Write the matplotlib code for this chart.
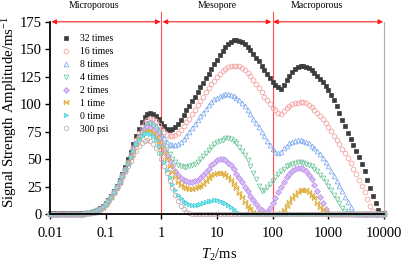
import numpy as np
import matplotlib
matplotlib.use("Agg")
import matplotlib.pyplot as plt
from matplotlib.path import Path

plt.rcParams['font.family'] = ['Liberation Serif', 'DejaVu Serif']
plt.rcParams['mathtext.fontset'] = 'custom'
plt.rcParams['mathtext.rm'] = 'Liberation Serif'
plt.rcParams['mathtext.it'] = 'Liberation Serif:italic'

# T2 grid (ms): log-spaced NMR relaxation time axis, 20 points per decade
T2 = np.logspace(-2, 4, 121)

labels = ["32 times", "16 times", "8 times", "4 times", "2 times", "1 time", "0 time", "300 psi"]

s32 = [1, 1, 1, 1, 1, 1, 1, 1, 1, 1,
       1, 1, 1, 1.2, 1.5, 2, 2.8, 4, 5.5, 7.5,
       10, 13, 17, 21, 26, 31, 37, 43, 50, 57,
       64, 71, 78, 84, 88.5, 91, 92, 91.5, 89.5, 86.5,
       83, 80, 78, 77, 77.5, 79, 82, 86, 90, 94.5,
       98.5, 103, 107, 111, 115.5, 119.5, 124, 128, 132, 136.5,
       140.5, 144.5, 148.5, 152, 155, 157, 158.3, 158.5, 158, 156.5,
       154.5, 152, 149, 146, 142.5, 139, 135, 131, 127.5, 124,
       120, 117.5, 115.5, 113.5, 117.5, 122, 126, 129.5, 132, 133.5,
       134.5, 134.5, 134, 133, 131, 128.5, 126, 123, 120, 116.5,
       113, 108.5, 104, 98.5, 92, 86, 80, 74, 68.5, 63,
       58, 52, 46, 39, 31, 24, 17, 10.5, 4, 1,
       1]

s16 = [0.5, 0.5, 0.5, 0.5, 0.5, 0.5, 0.5, 0.5, 0.5, 0.5,
       0.5, 0.5, 0.5, 0.8, 1.2, 1.7, 2.5, 3.5, 5, 7,
       9.5, 12.5, 16, 20, 25, 30, 35.5, 41.5, 48, 54.5,
       61, 67.5, 73.5, 79, 83, 86, 87, 86.5, 84.5, 81.5,
       78, 75, 72.5, 71, 71, 72, 74, 77, 80, 83.5,
       87, 91, 95, 99, 103, 107, 111, 115, 118.5, 121.5,
       124.5, 127.5, 130, 132, 133.5, 134.5, 135, 135, 134.5, 133,
       131, 128.5, 125.5, 122, 118.5, 115, 111, 107, 103.5, 100,
       97, 94.5, 92.5, 91.5, 94, 96.5, 98.5, 100, 101, 101.5,
       102, 102, 101, 99.5, 97.5, 95, 92.5, 89.5, 86.5, 83,
       79.5, 75.5, 71.5, 67.5, 63.5, 59.5, 55.5, 51, 46.5, 41.5,
       36.5, 31.5, 26, 20, 14, 8, 3, 0.5, 0.5, 0.5,
       0.5]

s8 = [0.5, 0.5, 0.5, 0.5, 0.5, 0.5, 0.5, 0.5, 0.5, 0.5,
      0.5, 0.5, 0.5, 0.8, 1.2, 1.7, 2.5, 3.5, 5, 7,
      9.5, 12.5, 16, 20, 24.5, 29.5, 35, 41, 47, 53.5,
      60, 66, 71.5, 76.5, 80.5, 83, 84, 83, 80.5, 77,
      73, 69, 66, 64, 63, 63, 64, 66, 68.5, 71.5,
      75, 78.5, 82, 85.5, 89, 92.5, 96, 99, 102, 104.5,
      106, 107.5, 108.5, 109, 109, 108.5, 107.5, 106, 104, 101.5,
      98.5, 95, 91, 87, 83, 79, 75, 71, 67, 63,
      59.5, 57, 55.5, 57, 60, 62.5, 64.5, 66, 67, 67.5,
      67.5, 67, 66, 64.5, 62.5, 60, 57.5, 54.5, 51, 47.5,
      43.5, 39.5, 35, 30.5, 26, 21, 16, 11, 6.5, 2.5,
      0.5, 0.5, 0.5, 0.5, 0.5, 0.5, 0.5, 0.5, 0.5, 0.5,
      0.5]

s4 = [0.5, 0.5, 0.5, 0.5, 0.5, 0.5, 0.5, 0.5, 0.5, 0.5,
      0.5, 0.5, 0.5, 0.8, 1.2, 1.7, 2.5, 3.5, 5, 7,
      9.5, 12.5, 16, 20, 24.5, 29.5, 35, 40.5, 46.5, 52.5,
      58.5, 64, 69.5, 74, 77.5, 80, 81, 80, 77.5, 73.5,
      69, 64, 59, 54.5, 50.5, 47.5, 45, 43.5, 43, 43,
      43.5, 44.5, 46, 48, 50.5, 53, 55.5, 58.5, 61, 63.5,
      65.5, 67, 68, 69, 69, 68.5, 67, 64.5, 61.5, 58,
      54, 49.5, 44, 38, 32, 26, 21, 22.5, 25, 27.5,
      30.5, 33.5, 36.5, 39, 41.5, 43.5, 45, 46, 47, 47.5,
      47.5, 47, 46, 45, 43.5, 41.5, 39, 36, 33, 29.5,
      26, 22, 18, 14, 10, 6, 3, 1, 0.5, 0.5,
      0.5, 0.5, 0.5, 0.5, 0.5, 0.5, 0.5, 0.5, 0.5, 0.5,
      0.5]

s2 = [0.5, 0.5, 0.5, 0.5, 0.5, 0.5, 0.5, 0.5, 0.5, 0.5,
      0.5, 0.5, 0.5, 0.8, 1.2, 1.7, 2.5, 3.5, 5, 7,
      9.5, 12.5, 16, 20, 24.5, 29.5, 35, 40.5, 47, 53,
      59, 65, 70, 74.5, 77.5, 79, 78.5, 76.5, 73, 69,
      64.5, 59.5, 54, 48.5, 43.5, 39, 35.5, 33, 31, 30,
      29.5, 29.5, 30, 31, 33, 35.5, 38.5, 41.5, 44.5, 47,
      49, 50, 50, 49, 47, 44.5, 41, 37, 33, 29,
      25, 21, 17, 13, 9.5, 6, 3.5, 2, 2.5, 5.5,
      10, 15, 20, 25, 29.5, 33.5, 37, 39.5, 41, 42,
      42, 41, 39, 36, 32, 27, 21.5, 15.5, 10, 5,
      1.5, 0.5, 0.5, 0.5, 0.5, 0.5, 0.5, 0.5, 0.5, 0.5,
      0.5, 0.5, 0.5, 0.5, 0.5, 0.5, 0.5, 0.5, 0.5, 0.5,
      0.5]

s1 = [0.5, 0.5, 0.5, 0.5, 0.5, 0.5, 0.5, 0.5, 0.5, 0.5,
      0.5, 0.5, 0.5, 0.8, 1.2, 1.7, 2.5, 3.5, 5, 7,
      9.5, 12.5, 16, 20, 24.5, 29.5, 35, 40.5, 46.5, 52.5,
      58.5, 64, 69, 72.5, 75, 76, 75.5, 73.5, 70, 66,
      61.5, 56, 50, 44, 38.5, 33.5, 29.5, 26.5, 24.5, 23.5,
      23, 23, 23.5, 24.5, 26, 28, 30.5, 33, 35.5, 37,
      38, 38, 37.5, 36, 34, 31, 27.5, 23.5, 19.5, 15.5,
      11.5, 8, 5, 2.5, 1, 0.5, 0.5, 0.5, 0.5, 0.5,
      0.5, 0.5, 0.5, 1.5, 4, 7.5, 11.5, 15, 18, 20.5,
      22, 22.5, 22, 20.5, 18, 14.5, 10.5, 6.5, 3.5, 1.5,
      0.5, 0.5, 0.5, 0.5, 0.5, 0.5, 0.5, 0.5, 0.5, 0.5,
      0.5, 0.5, 0.5, 0.5, 0.5, 0.5, 0.5, 0.5, 0.5, 0.5,
      0.5]

s0 = [0.5, 0.5, 0.5, 0.5, 0.5, 0.5, 0.5, 0.5, 0.5, 0.5,
      0.5, 0.5, 0.5, 0.8, 1.2, 1.7, 2.5, 3.5, 5, 7,
      9.5, 12.5, 16, 20, 24.5, 29.5, 35, 40.5, 46, 52,
      58, 63.5, 68, 71, 73, 73.5, 73, 71, 67.5, 62,
      55.5, 48, 40.5, 33.5, 27.5, 22.5, 18, 14.5, 12, 10,
      9, 8.5, 8.5, 8.5, 9, 10, 11, 12, 12.5, 13,
      13, 12.5, 11.5, 10, 8.5, 6.5, 4.5, 2.5, 1, 0.5,
      0.5, 0.5, 0.5, 0.5, 0.5, 0.5, 0.5, 0.5, 0.5, 0.5,
      0.5, 0.5, 0.5, 0.5, 0.5, 0.5, 0.5, 0.5, 0.5, 0.5,
      0.5, 0.5, 0.5, 0.5, 0.5, 0.5, 0.5, 0.5, 0.5, 0.5,
      0.5, 0.5, 0.5, 0.5, 0.5, 0.5, 0.5, 0.5, 0.5, 0.5,
      0.5, 0.5, 0.5, 0.5, 0.5, 0.5, 0.5, 0.5, 0.5, 0.5,
      0.5]

s300 = [0.5, 0.5, 0.5, 0.5, 0.5, 0.5, 0.5, 0.5, 0.5, 0.5,
        0.5, 0.5, 0.5, 0.8, 1.1, 1.5, 2.2, 3.2, 4.5, 6.5,
        9, 12, 15.5, 19.5, 24, 28.5, 33.5, 38.5, 43.5, 48.5,
        53.5, 58, 62, 65, 67, 67.5, 66.5, 64, 60, 55.5,
        50, 44, 37.5, 30.5, 24, 18, 12.5, 8, 4.5, 2,
        1, 0.5, 0.5, 0.5, 0.5, 0.5, 0.5, 0.5, 0.5, 0.5,
        0.5, 0.5, 0.5, 0.5, 0.5, 0.5, 0.5, 0.5, 0.5, 0.5,
        0.5, 0.5, 0.5, 0.5, 0.5, 0.5, 0.5, 0.5, 0.5, 0.5,
        0.5, 0.5, 0.5, 0.5, 0.5, 0.5, 0.5, 0.5, 0.5, 0.5,
        0.5, 0.5, 0.5, 0.5, 0.5, 0.5, 0.5, 0.5, 0.5, 0.5,
        0.5, 0.5, 0.5, 0.5, 0.5, 0.5, 0.5, 0.5, 0.5, 0.5,
        0.5, 0.5, 0.5, 0.5, 0.5, 0.5, 0.5, 0.5, 0.5, 0.5,
        0.5]

series = [s32, s16, s8, s4, s2, s1, s0, s300]

bowtie = Path([(-1, -1), (1, 1), (1, -1), (-1, 1), (-1, -1)],
              [Path.MOVETO, Path.LINETO, Path.LINETO, Path.LINETO, Path.CLOSEPOLY])

styles = [
    dict(marker='s', ms=2.7, mfc='#3c3c3c', mec='#3c3c3c', mew=0.5),
    dict(marker='o', ms=3.4, mfc='none', mec='#f4a3a3', mew=0.6),
    dict(marker='^', ms=3.4, mfc='none', mec='#82aef0', mew=0.6),
    dict(marker='v', ms=3.4, mfc='none', mec='#74c9a0', mew=0.6),
    dict(marker='D', ms=3.0, mfc='#d9bdf7', mec='#b88ee8', mew=0.5),
    dict(marker=bowtie, ms=3.4, mfc='#f0cc70', mec='#dba832', mew=0.5),
    dict(marker='>', ms=3.2, mfc='#8ee8ee', mec='#3ccfd8', mew=0.5),
    dict(marker='o', ms=3.2, mfc='none', mec='#c4aeb0', mew=0.6),
]

W, H = 401, 268
fig = plt.figure(figsize=(W / 100, H / 100), dpi=100)
ax = fig.add_axes([50 / W, 1 - 214.3 / H, 334 / W, 192.5 / H])

for vals, lab, st in zip(series, labels, styles):
    ax.plot(T2, vals, ls='none', label=lab, clip_on=False, **st)

ax.set_xscale('log')
ax.set_xlim(0.01, 10000)
ax.set_ylim(0, 175)
ax.set_xticks([0.01, 0.1, 1, 10, 100, 1000, 10000])
ax.set_xticklabels(['0.01', '0.1', '1', '10', '100', '1000', '10000'])
ax.set_yticks([0, 25, 50, 75, 100, 125, 150, 175])
ax.minorticks_off()
ax.tick_params(axis='both', direction='out', length=3.5, width=1.0, labelsize=10.5)
ax.tick_params(axis='x', pad=6)
ax.tick_params(axis='y', pad=2.5)

for sp in ['left', 'bottom']:
    ax.spines[sp].set_linewidth(1.3)
ax.spines['top'].set_visible(False)
ax.spines['right'].set_color('#b0b0b0')
ax.spines['right'].set_linewidth(0.8)

ax.set_xlabel(r'$T_2$/ms', fontsize=10.5)
ax.xaxis.set_label_coords((219 - 50) / 334, -(247 - 214.3) / 192.5)
ax.set_ylabel(r'Signal Strength Amplitude/ms$^{-1}$', fontsize=10.6)
ax.yaxis.set_label_coords((19 - 50) / 334, (214.3 - 112) / 192.5)

# region boundaries
for xv in [1, 100]:
    ax.axvline(xv, ymin=0, ymax=(214.3 - 12) / 192.5, color='#ff4d4d', lw=0.8,
               clip_on=False, zorder=1)

arrow = dict(arrowstyle='<|-|>', color='#ff1a1a', lw=0.8, mutation_scale=7, shrinkA=0, shrinkB=0)
for x0, x1 in [(0.0106, 0.97), (1.05, 95), (101.5, 9670)]:
    ax.annotate('', xy=(x0, 175), xytext=(x1, 175), arrowprops=arrow, annotation_clip=False)

for xc, txt in [(94, 'Microporous'), (217, 'Mesopore'), (317, 'Macroporous')]:
    fig.text(xc / W, 1 - 6 / H, txt, ha='center', va='center', fontsize=7)

leg = ax.legend(loc='upper left', bbox_to_anchor=(0.02, 0.955), frameon=False, fontsize=7,
                handlelength=1.2, handletextpad=0.8, labelspacing=0.4, numpoints=1,
                markerscale=1.0, borderaxespad=0)

fig.savefig('out.png', dpi=100)
